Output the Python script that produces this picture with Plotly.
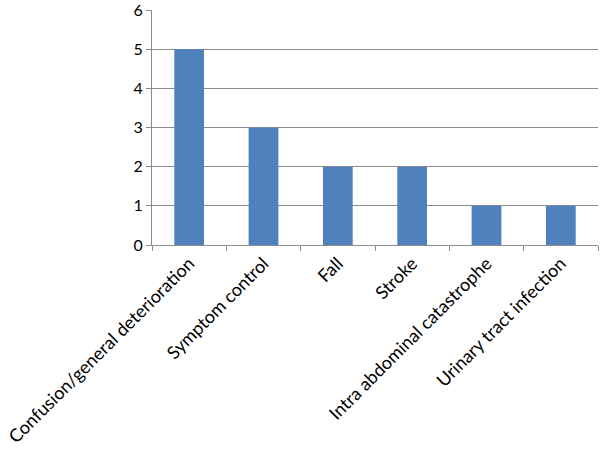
import plotly.graph_objects as go

categories = ["Confusion/general deterioration", "Symptom control", "Fall", "Stroke",
              "Intra abdominal catastrophe", "Urinary tract infection"]
values = [5, 3, 2, 2, 1, 1]
y_ticks = [0, 1, 2, 3, 4, 5, 6]

fig = go.Figure(go.Bar(x=categories, y=values, marker=dict(color="#4F81BD", line=dict(width=0))))

grid = "#8C8C8C"
xfont = dict(family="Lato, Open Sans, sans-serif", size=18, color="#000000")
yfont = dict(family="Lato, Open Sans, sans-serif", size=16, color="#000000")
fig.update_layout(
    width=600, height=451,
    margin=dict(l=152, r=2, t=10, b=206, autoexpand=False),
    paper_bgcolor="white", plot_bgcolor="white",
    bargap=0.6, showlegend=False, font=yfont,
)
fig.update_xaxes(
    type="category", tickangle=-45, showline=True, linecolor=grid, linewidth=1,
    ticks="outside", tickson="boundaries", ticklen=5, tickcolor=grid,
    showgrid=False, automargin=False, tickfont=xfont, ticklabeloverflow="allow",
)
fig.update_yaxes(
    range=[0, 6], tickvals=y_ticks, showline=True, linecolor=grid, linewidth=1,
    ticks="outside", ticklen=5, tickcolor=grid, showgrid=True, gridcolor=grid,
    gridwidth=1, zeroline=False, automargin=False, tickfont=yfont,
    ticklabeloverflow="allow",
)
fig.write_html("out.html", config={"displayModeBar": False},
               post_script="document.body.style.margin='0';document.body.style.overflow='hidden';")
